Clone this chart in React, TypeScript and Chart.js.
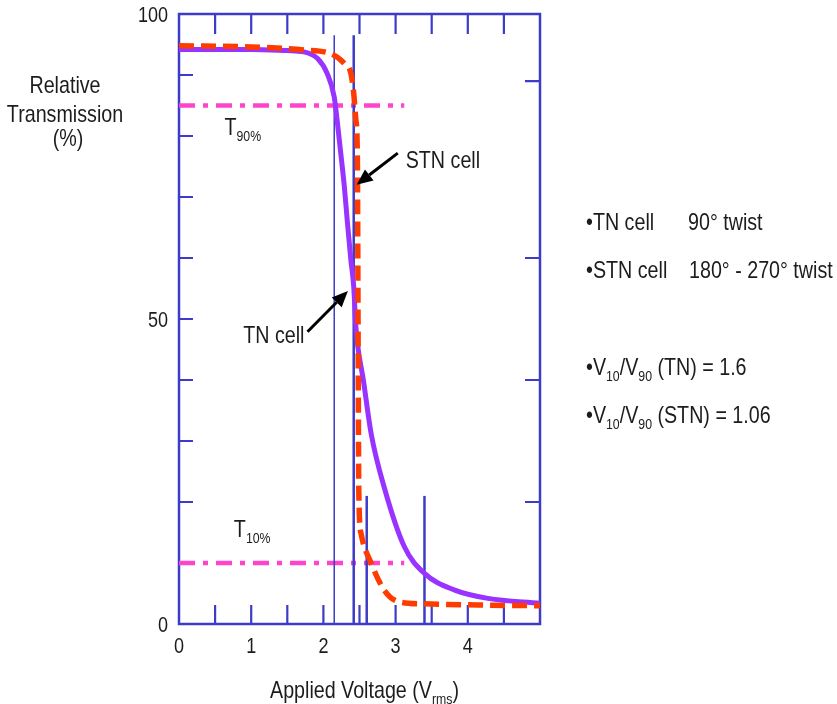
import React, { useEffect, useRef } from 'react';
import { Chart, registerables } from 'chart.js';

Chart.register(...registerables);

// ---------------- data ----------------
const TN_VOLTS = [0, 1.0, 1.5, 1.73, 1.92, 2.05, 2.15, 2.19, 2.24, 2.29, 2.33, 2.38, 2.42, 2.45, 2.56, 2.66, 2.84, 3.12, 3.4, 3.81, 4.28, 5.0];
const TN_TRANS = [94.2, 94.2, 94.0, 93.8, 92.7, 90.3, 86.4, 82.6, 77.2, 71.7, 66.2, 59.7, 55.3, 48.7, 39.5, 31.3, 22.5, 12.7, 8.3, 5.6, 4.2, 3.4];

const STN_VOLTS = [0, 1.0, 1.73, 2.1, 2.29, 2.38, 2.42, 2.45, 2.47, 2.48, 2.49, 2.52, 2.66, 2.84, 3.03, 3.4, 4.2, 5.0];
const STN_TRANS = [94.8, 94.6, 94.1, 93.5, 91.9, 90.3, 87.0, 82.6, 77.2, 50.0, 22.0, 14.9, 10.0, 5.6, 3.7, 3.3, 3.1, 3.0];

const T90_LEVEL = 85;
const T10_LEVEL = 10;
const T_LINE_END = 3.12;

const V90_TN = 2.15;
const V90_STN = 2.42;
const V10_STN = 2.6;
const V10_TN = 3.4;
const V90_LINE_TOP = 96.5;
const V10_LINE_TOP = 21;

const X_TICK_LABELS = [0, 1, 2, 3, 4];
const Y_TICK_LABELS = [0, 50, 100];
const TOP_BOTTOM_TICKS = [0.5, 1, 1.5, 2, 2.5, 3, 3.5, 4, 4.5];
const LEFT_TICKS = [10, 20, 30, 40, 50, 60, 70, 80, 90];
const RIGHT_TICKS = [20, 40, 60, 89];

// ---------------- style ----------------
const FONT = '"Liberation Sans", Arial, sans-serif';
const TEXT = '#1c1c1c';
const AXIS_BLUE = '#3c3cc8';
const TN_COLOR = '#9933ff';
const STN_COLOR = '#ff3c00';
const T_COLOR = '#ff44cc';
const K = 0.82; // horizontal text compression

type Part = [string, boolean?];

function drawRich(ctx: CanvasRenderingContext2D, parts: Part[], x: number, y: number, size: number, align: 'left' | 'center' | 'right' = 'left') {
  const subSize = Math.round(size * 0.64);
  const widths = parts.map(([t, sub]) => {
    ctx.font = `${sub ? subSize : size}px ${FONT}`;
    return ctx.measureText(t).width * K;
  });
  const total = widths.reduce((a, b) => a + b, 0);
  let cx = align === 'center' ? x - total / 2 : align === 'right' ? x - total : x;
  parts.forEach(([t, sub], i) => {
    ctx.save();
    ctx.font = `${sub ? subSize : size}px ${FONT}`;
    ctx.fillStyle = TEXT;
    ctx.textAlign = 'left';
    ctx.textBaseline = 'alphabetic';
    ctx.translate(cx, y + (sub ? size * 0.27 : 0));
    ctx.scale(K, 1);
    ctx.fillText(t, 0, 0);
    ctx.restore();
    cx += widths[i];
  });
}

function arrow(ctx: CanvasRenderingContext2D, x1: number, y1: number, x2: number, y2: number) {
  const ang = Math.atan2(y2 - y1, x2 - x1);
  const head = 16;
  const hw = 7;
  const bx = x2 - head * Math.cos(ang);
  const by = y2 - head * Math.sin(ang);
  ctx.save();
  ctx.strokeStyle = '#000';
  ctx.fillStyle = '#000';
  ctx.lineWidth = 3;
  ctx.beginPath();
  ctx.moveTo(x1, y1);
  ctx.lineTo(bx, by);
  ctx.stroke();
  ctx.beginPath();
  ctx.moveTo(x2, y2);
  ctx.lineTo(bx + hw * Math.sin(ang), by - hw * Math.cos(ang));
  ctx.lineTo(bx - hw * Math.sin(ang), by + hw * Math.cos(ang));
  ctx.closePath();
  ctx.fill();
  ctx.restore();
}

const decorPlugin = {
  id: 'decor',
  beforeDatasetsDraw(chart: any) {
    const { ctx, chartArea: a, scales } = chart;
    const xs = scales.x;
    const ys = scales.y;
    ctx.save();
    ctx.strokeStyle = AXIS_BLUE;
    ctx.lineWidth = 2.5;
    ctx.strokeRect(a.left, a.top, a.right - a.left, a.bottom - a.top);
    ctx.lineWidth = 2.2;
    ctx.beginPath();
    TOP_BOTTOM_TICKS.forEach((v) => {
      const px = xs.getPixelForValue(v);
      ctx.moveTo(px, a.top);
      ctx.lineTo(px, a.top + 20);
      ctx.moveTo(px, a.bottom);
      ctx.lineTo(px, a.bottom - 19);
    });
    LEFT_TICKS.forEach((v) => {
      const py = ys.getPixelForValue(v);
      ctx.moveTo(a.left, py);
      ctx.lineTo(a.left + 14, py);
    });
    RIGHT_TICKS.forEach((v) => {
      const py = ys.getPixelForValue(v);
      ctx.moveTo(a.right, py);
      ctx.lineTo(a.right - 15, py);
    });
    ctx.stroke();
    ctx.restore();
  },
  afterDatasetsDraw(chart: any) {
    const { ctx, chartArea: a, scales } = chart;
    const xs = scales.x;
    const ys = scales.y;
    const X = (v: number) => xs.getPixelForValue(v);
    const Y = (v: number) => ys.getPixelForValue(v);

    // tick labels
    X_TICK_LABELS.forEach((v) => drawRich(ctx, [[String(v)]], X(v), a.bottom + 29, 22, 'center'));
    Y_TICK_LABELS.forEach((v) => drawRich(ctx, [[String(v)]], a.left - 11, Y(v) + 8, 22, 'right'));

    // axis titles
    drawRich(ctx, [['Applied Voltage (V'], ['rms', true], [')']], 270, 698, 24, 'left');
    drawRich(ctx, [['Relative']], 65, 93, 24, 'center');
    drawRich(ctx, [['Transmission']], 65, 122, 24, 'center');
    drawRich(ctx, [['(%)']], 68, 146, 24, 'center');

    // threshold labels
    drawRich(ctx, [['T'], ['90%', true]], X(0.63), Y(T90_LEVEL) + 29, 24);
    drawRich(ctx, [['T'], ['10%', true]], X(0.76), Y(T10_LEVEL) - 26, 24);

    // cell annotations
    drawRich(ctx, [['STN cell']], X(3.14), 168, 24);
    arrow(ctx, X(3.03), Y(77.2), X(2.46), Y(72.0));
    drawRich(ctx, [['TN cell']], X(0.89), 343, 24);
    arrow(ctx, X(1.78), Y(47.9), X(2.34), Y(54.6));

    // side notes
    drawRich(ctx, [['\u2022TN cell']], 586, 230, 24);
    drawRich(ctx, [['90\u00b0 twist']], 688, 230, 24);
    drawRich(ctx, [['\u2022STN cell']], 586, 278, 24);
    drawRich(ctx, [['180\u00b0 - 270\u00b0 twist']], 689, 278, 24);
    drawRich(ctx, [['\u2022V'], ['10', true], ['/V'], ['90', true], [' (TN) = 1.6']], 586, 375, 24);
    drawRich(ctx, [['\u2022V'], ['10', true], ['/V'], ['90', true], [' (STN) = 1.06']], 586, 423, 24);
  },
};

function pts(xs: number[], ys: number[]) {
  return xs.map((x, i) => ({ x, y: ys[i] }));
}

export default function App() {
  const ref = useRef<HTMLCanvasElement | null>(null);
  useEffect(() => {
    if (!ref.current) return;
    const vline = (x: number, top: number, w: number) => ({
      data: [{ x, y: 0 }, { x, y: top }],
      borderColor: AXIS_BLUE,
      borderWidth: w,
      pointRadius: 0,
      fill: false,
    });
    const hline = (y: number) => ({
      data: [{ x: 0, y }, { x: T_LINE_END, y }],
      borderColor: T_COLOR,
      borderWidth: 4.5,
      borderDash: [16, 8, 5, 8],
      pointRadius: 0,
      fill: false,
    });
    const chart = new Chart(ref.current, {
      type: 'line',
      data: {
        datasets: [
          {
            label: 'STN cell',
            data: pts(STN_VOLTS, STN_TRANS),
            borderColor: STN_COLOR,
            borderWidth: 5.5,
            borderDash: [15, 7],
            cubicInterpolationMode: 'monotone',
            pointRadius: 0,
            fill: false,
          },
          {
            label: 'TN cell',
            data: pts(TN_VOLTS, TN_TRANS),
            borderColor: TN_COLOR,
            borderWidth: 5,
            cubicInterpolationMode: 'monotone',
            pointRadius: 0,
            fill: false,
          },
          { label: 'V90 TN', ...vline(V90_TN, V90_LINE_TOP, 1.5) },
          { label: 'V90 STN', ...vline(V90_STN, V90_LINE_TOP, 2.5) },
          { label: 'V10 STN', ...vline(V10_STN, V10_LINE_TOP, 2.5) },
          { label: 'V10 TN', ...vline(V10_TN, V10_LINE_TOP, 2.5) },
          { label: 'T90', ...hline(T90_LEVEL) },
          { label: 'T10', ...hline(T10_LEVEL) },
        ] as any,
      },
      options: {
        animation: false,
        responsive: false,
        devicePixelRatio: 1,
        layout: { padding: { left: 179, right: 297, top: 14, bottom: 80 } },
        plugins: { legend: { display: false }, tooltip: { enabled: false } },
        scales: {
          x: { type: 'linear', min: 0, max: 5, display: false },
          y: { type: 'linear', min: 0, max: 100, display: false },
        },
      },
      plugins: [decorPlugin],
    });
    return () => chart.destroy();
  }, []);
  return (
    <div style={{ position: 'absolute', left: 0, top: 0, width: 837, height: 704, background: '#fff' }}>
      <canvas ref={ref} width={837} height={704} style={{ display: 'block' }} />
    </div>
  );
}
